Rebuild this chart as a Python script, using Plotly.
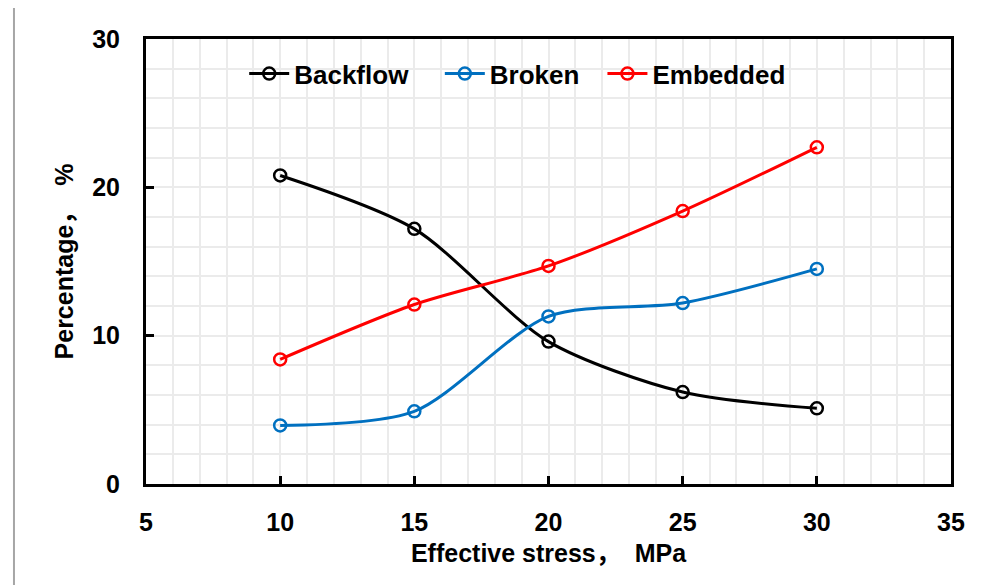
import plotly.graph_objects as go

stress = [10, 15, 20, 25, 30]
backflow = [20.8, 17.2, 9.6, 6.2, 5.1]
broken = [3.95, 4.9, 11.3, 12.2, 14.5]
embedded = [8.4, 12.1, 14.7, 18.4, 22.7]

series = [
    ("Backflow", backflow, "#000000", "legend", 0.122),
    ("Broken", broken, "#0070C0", "legend2", 0.365),
    ("Embedded", embedded, "#FF0000", "legend3", 0.567),
]

font_family = "Liberation Sans, Arial, Noto Sans CJK SC, sans-serif"
grid_col = "#EBEBEB"

fig = go.Figure()
legends = {}
for name, vals, col, leg, lx in series:
    fig.add_trace(go.Scatter(
        x=stress, y=vals, name=name, mode="lines+markers", legend=leg,
        line=dict(color=col, width=3, shape="spline", smoothing=0.8),
        marker=dict(symbol="circle-open", size=12, color=col, line=dict(width=2.5, color=col)),
    ))
    legends[leg] = dict(
        orientation="h", x=lx, y=0.975, xanchor="left", yanchor="top",
        bgcolor="rgba(0,0,0,0)", font=dict(size=26, family=font_family, weight="bold"),
        itemwidth=40,
    )

fig.update_layout(
    width=993, height=585,
    margin=dict(l=138, r=50, t=31, b=109),
    paper_bgcolor="white", plot_bgcolor="white",
    font=dict(family=font_family, size=25, color="black"),
    showlegend=True,
    **legends,
    xaxis=dict(
        range=[5, 35], dtick=5, tick0=5,
        showline=True, linecolor="black", linewidth=3, mirror=True,
        ticks="inside", ticklen=8, tickwidth=3, tickcolor="black",
        showgrid=True, gridcolor=grid_col, gridwidth=2,
        minor=dict(dtick=1, showgrid=True, gridcolor=grid_col, gridwidth=2, ticks=""),
        tickfont=dict(size=25, weight="bold"),
        ticklabelstandoff=14,
        title=dict(text="Effective stress，  MPa", font=dict(size=25, weight="bold"), standoff=10),
        zeroline=False,
    ),
    yaxis=dict(
        range=[0, 30], dtick=10, tick0=0,
        showline=True, linecolor="black", linewidth=3, mirror=True,
        ticks="inside", ticklen=8, tickwidth=3, tickcolor="black",
        showgrid=True, gridcolor=grid_col, gridwidth=2,
        minor=dict(dtick=2, showgrid=True, gridcolor=grid_col, gridwidth=2, ticks=""),
        tickfont=dict(size=25, weight="bold"),
        ticklabelstandoff=18,
        title=dict(text="Percentage，  %", font=dict(size=25, weight="bold"), standoff=12),
        zeroline=False,
    ),
    shapes=[
        dict(type="line", xref="paper", yref="paper", x0=-0.164, x1=-0.164, y0=-0.25, y1=1.07,
             line=dict(color="#A6A6A6", width=2)),
        dict(type="line", xref="paper", yref="paper", x0=1.0497, x1=1.0497, y0=-0.25, y1=1.07,
             line=dict(color="#A6A6A6", width=2)),
    ],
)

fig.write_html("out.html")
